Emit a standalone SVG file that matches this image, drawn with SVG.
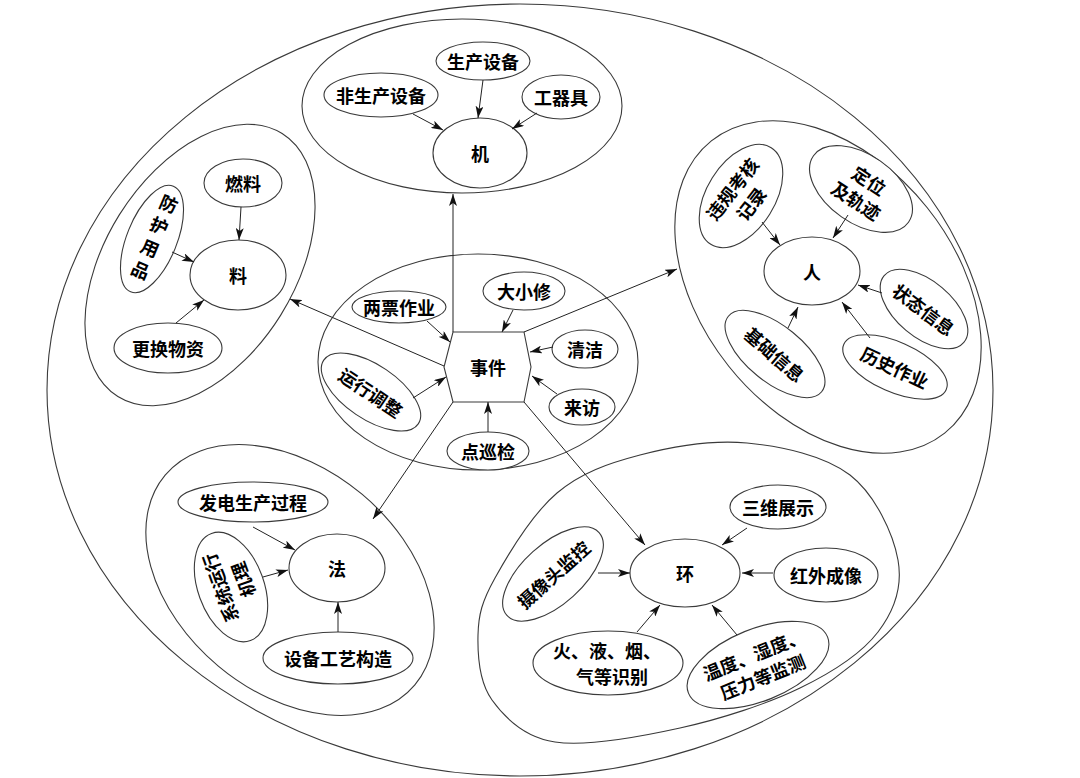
<svg xmlns="http://www.w3.org/2000/svg" width="1080" height="778" viewBox="0 0 1080 778">
<defs>
<style>
.g{fill:none;stroke:#3a3a3a;stroke-width:1.1}
.n{fill:#fff;stroke:#3a3a3a;stroke-width:1.1}
.t{font-family:"Noto Sans CJK SC","Noto Sans CJK JP",sans-serif;font-size:18px;font-weight:bold;fill:#000;text-anchor:middle;dominant-baseline:central}
.c line{stroke:#222;stroke-width:1;marker-end:url(#ah)}
</style>
<marker id="ah" viewBox="0 0 12 8" refX="12" refY="4" markerWidth="12" markerHeight="8" orient="auto" markerUnits="userSpaceOnUse"><path d="M0,0 L12,4 L0,8 L3,4 Z" fill="#111"/></marker>
</defs>
<rect width="1080" height="778" fill="#fff"/>

<g id="outer"><ellipse class="g" cx="520" cy="390" rx="473" ry="386"/></g>
<g id="group-ji"><ellipse class="g" cx="462" cy="106" rx="160" ry="87"/></g>
<g id="group-liao"><ellipse class="g" cx="200" cy="265" rx="95" ry="155" transform="rotate(32 200 265)"/></g>
<g id="group-shijian"><ellipse class="g" cx="478" cy="362" rx="160" ry="108"/></g>
<g id="group-ren"><ellipse class="g" cx="828" cy="287" rx="127" ry="187" transform="rotate(-38.6 828 287)"/></g>
<g id="group-fa"><ellipse class="g" cx="290" cy="580" rx="163" ry="112" transform="rotate(40 290 580)"/></g>
<g id="group-huan"><path class="g" d="M747,443 C782,446.3 824.8,455.5 850,475 C875.2,494.5 893.3,533.8 898,560 C902.7,586.2 894.3,610.7 878,632 C861.7,653.3 833,672 800,688 C767,704 720.8,719 680,728 C639.2,737 586.3,746.7 555,742 C523.7,737.3 504.8,717.8 492,700 C479.2,682.2 477.5,655.3 478,635 C478.5,614.7 481.8,601.7 495,578 C508.2,554.3 532.8,513.5 557,493 C581.2,472.5 608.3,463.3 640,455 C671.7,446.7 712,439.7 747,443 Z"/></g>

<!-- 机 -->
<g id="n-shengchan"><ellipse class="n" cx="483" cy="61" rx="47" ry="19"/><text class="t" x="483" y="61">生产设备</text></g>
<g id="n-feishengchan"><ellipse class="n" cx="381" cy="95" rx="57" ry="22"/><text class="t" x="381" y="95">非生产设备</text></g>
<g id="n-gongqiju"><ellipse class="n" cx="561" cy="97" rx="39" ry="22"/><text class="t" x="561" y="97">工器具</text></g>
<g id="n-ji"><ellipse class="n" cx="480" cy="153" rx="47" ry="35"/><text class="t" x="480" y="153">机</text></g>

<!-- 料 -->
<g id="n-ranliao"><ellipse class="n" cx="243" cy="183" rx="39" ry="24"/><text class="t" x="243" y="183">燃料</text></g>
<g id="n-liao"><ellipse class="n" cx="238" cy="275" rx="48" ry="35"/><text class="t" x="238" y="275">料</text></g>
<g id="n-fanghu"><ellipse class="n" cx="152" cy="239" rx="25" ry="57" transform="rotate(22 152 239)"/>
<g transform="translate(155,236) rotate(23)"><text class="t" y="-36">防</text><text class="t" y="-12">护</text><text class="t" y="12">用</text><text class="t" y="36">品</text></g></g>
<g id="n-genghuan"><ellipse class="n" cx="168" cy="348" rx="54" ry="25"/><text class="t" x="168" y="348">更换物资</text></g>

<!-- 事件 -->
<g id="n-shijian"><polygon class="n" points="453,332 524,332 531,367 524,402 453,402 444,367"/><text class="t" x="488" y="367">事件</text></g>
<g id="n-liangpiao"><ellipse class="n" cx="399" cy="307" rx="47" ry="16"/><text class="t" x="399" y="307">两票作业</text></g>
<g id="n-daxiaoxiu"><ellipse class="n" cx="524" cy="291" rx="41" ry="19"/><text class="t" x="524" y="291">大小修</text></g>
<g id="n-qingjie"><ellipse class="n" cx="585" cy="349" rx="33" ry="19"/><text class="t" x="585" y="349">清洁</text></g>
<g id="n-laifang"><ellipse class="n" cx="582" cy="407" rx="33" ry="18"/><text class="t" x="582" y="407">来访</text></g>
<g id="n-dianxunjian"><ellipse class="n" cx="488" cy="451" rx="41" ry="19"/><text class="t" x="488" y="451">点巡检</text></g>
<g id="n-yunxing"><ellipse class="n" cx="371" cy="392" rx="57" ry="27" transform="rotate(34 371 392)"/><text class="t" x="371" y="392" transform="rotate(34 371 392)">运行调整</text></g>

<!-- 人 -->
<g id="n-ren"><ellipse class="n" cx="812" cy="271" rx="48" ry="34"/><text class="t" x="812" y="271">人</text></g>
<g id="n-weigui"><ellipse class="n" cx="741" cy="196" rx="34" ry="57" transform="rotate(32 741 196)"/>
<g transform="translate(741,196) rotate(-52)"><text class="t" y="-12">违规考核</text><text class="t" y="12">记录</text></g></g>
<g id="n-dingwei"><ellipse class="n" cx="861" cy="189" rx="58" ry="34" transform="rotate(35 861 189)"/>
<g transform="translate(863,190) rotate(33)"><text class="t" y="-12">定位</text><text class="t" y="12">及轨迹</text></g></g>
<g id="n-zhuangtai"><ellipse class="n" cx="924" cy="309" rx="52" ry="28" transform="rotate(40 924 309)"/><text class="t" x="924" y="309" transform="rotate(37 924 309)">状态信息</text></g>
<g id="n-jichu"><ellipse class="n" cx="775" cy="354" rx="60" ry="28" transform="rotate(39 775 354)"/><text class="t" x="775" y="354" transform="rotate(41 775 354)">基础信息</text></g>
<g id="n-lishi"><ellipse class="n" cx="895" cy="367" rx="56" ry="25" transform="rotate(24 895 367)"/><text class="t" x="895" y="367" transform="rotate(25 895 367)">历史作业</text></g>

<!-- 环 -->
<g id="n-huan"><ellipse class="n" cx="685" cy="573" rx="55" ry="34"/><text class="t" x="685" y="573">环</text></g>
<g id="n-sanwei"><ellipse class="n" cx="778" cy="507" rx="48" ry="22"/><text class="t" x="778" y="507">三维展示</text></g>
<g id="n-hongwai"><ellipse class="n" cx="826" cy="575" rx="52" ry="27"/><text class="t" x="826" y="575">红外成像</text></g>
<g id="n-shexiang"><ellipse class="n" cx="553" cy="574" rx="62" ry="30" transform="rotate(-42 553 574)"/><text class="t" x="553" y="574" transform="rotate(-42 553 574)">摄像头监控</text></g>
<g id="n-huoye"><ellipse class="n" cx="608" cy="663" rx="75" ry="32"/><text class="t" x="607" y="650">火、液、烟、</text><text class="t" x="612" y="676">气等识别</text></g>
<g id="n-wendu"><ellipse class="n" cx="758" cy="665" rx="75" ry="36" transform="rotate(-22 758 665)"/>
<g transform="translate(758,665) rotate(-22)"><text class="t" y="-12">温度、湿度、</text><text class="t" y="12">压力等监测</text></g></g>

<!-- 法 -->
<g id="n-fa"><ellipse class="n" cx="337" cy="568" rx="48" ry="34"/><text class="t" x="337" y="568">法</text></g>
<g id="n-fadian"><ellipse class="n" cx="253" cy="502" rx="75" ry="20"/><text class="t" x="253" y="502">发电生产过程</text></g>
<g id="n-xitong"><ellipse class="n" cx="231" cy="587" rx="33" ry="57" transform="rotate(-20 231 587)"/>
<g transform="translate(231,584) rotate(-110)"><text class="t" y="-12">系统运行</text><text class="t" y="12">机理</text></g></g>
<g id="n-shebei"><ellipse class="n" cx="338" cy="658" rx="75" ry="26"/><text class="t" x="338" y="658">设备工艺构造</text></g>

<g id="connectors" class="c">
<line x1="483" y1="80" x2="478" y2="118"/>
<line x1="413" y1="114" x2="443" y2="130"/>
<line x1="537" y1="113" x2="512" y2="129"/>
<line x1="453" y1="332" x2="453" y2="194"/>
<line x1="241" y1="207" x2="239" y2="240"/>
<line x1="172" y1="252" x2="194" y2="262"/>
<line x1="176" y1="323" x2="204" y2="300"/>
<line x1="444" y1="366" x2="290" y2="299"/>
<line x1="427" y1="321" x2="450" y2="342"/>
<line x1="513" y1="310" x2="502" y2="332"/>
<line x1="553" y1="347" x2="530" y2="352"/>
<line x1="557" y1="394" x2="532" y2="376"/>
<line x1="488" y1="432" x2="488" y2="402"/>
<line x1="413" y1="398" x2="446" y2="377"/>
<line x1="524" y1="332" x2="677" y2="269"/>
<line x1="762" y1="222" x2="780" y2="245"/>
<line x1="848" y1="215" x2="833" y2="238"/>
<line x1="882" y1="293" x2="858" y2="285"/>
<line x1="788" y1="328" x2="798" y2="307"/>
<line x1="870" y1="338" x2="842" y2="302"/>
<line x1="524" y1="402" x2="645" y2="545"/>
<line x1="747" y1="528" x2="722" y2="545"/>
<line x1="773" y1="573" x2="742" y2="573"/>
<line x1="598" y1="573" x2="630" y2="573"/>
<line x1="637" y1="632" x2="660" y2="605"/>
<line x1="737" y1="635" x2="712" y2="605"/>
<line x1="453" y1="402" x2="373" y2="519"/>
<line x1="253" y1="527" x2="295" y2="550"/>
<line x1="263" y1="577" x2="288" y2="570"/>
<line x1="338" y1="632" x2="338" y2="602"/>
</g>
</svg>
